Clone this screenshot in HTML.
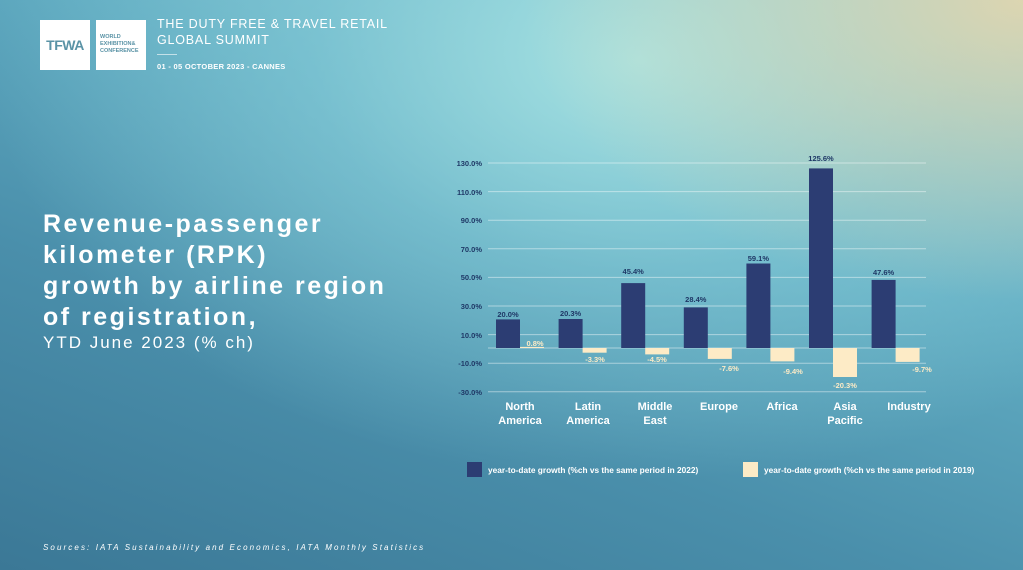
<!DOCTYPE html>
<html><head><meta charset="utf-8"><style>
html,body{margin:0;padding:0}
body{width:1023px;height:570px;overflow:hidden;position:relative;font-family:"Liberation Sans",sans-serif;
background:radial-gradient(ellipse 500px 300px at 1023px 0px,rgba(235,215,170,0.85),rgba(235,215,170,0) 100%),
radial-gradient(ellipse 650px 420px at 640px 60px,#a6e2e2 0%,rgba(140,210,220,0.55) 50%,rgba(120,190,205,0) 100%),
linear-gradient(200deg,#86c8d4 0%,#60abc1 35%,#4a8fab 65%,#3b7896 100%);}
.box{position:absolute;background:#fff;}
</style></head><body>
<div class="box" style="left:40px;top:20px;width:50px;height:50px;"><div style="font-weight:bold;color:#5a93a6;font-size:14px;text-align:center;line-height:50px;letter-spacing:-0.5px">TFWA</div></div>
<div class="box" style="left:96px;top:20px;width:50px;height:50px;"><div style="color:#5a93a6;font-size:5.5px;font-weight:bold;padding:14px 0 0 4px;line-height:7px">WORLD<br>EXHIBITION&amp;<br>CONFERENCE</div></div>
<div style="position:absolute;left:157px;top:16px;color:#fff;font-size:12.5px;letter-spacing:0.8px;line-height:16px">THE DUTY FREE &amp; TRAVEL RETAIL<br>GLOBAL SUMMIT</div>
<div style="position:absolute;left:157px;top:54px;width:20px;height:1px;background:rgba(255,255,255,0.6)"></div>
<div style="position:absolute;left:157px;top:62px;color:#fff;font-size:7.5px;font-weight:bold;letter-spacing:0.3px">01 - 05 OCTOBER 2023 - CANNES</div>
<div style="position:absolute;left:43px;top:209px;color:#fff;font-size:25px;font-weight:bold;letter-spacing:2.5px;line-height:31px">Revenue-passenger<br>kilometer (RPK)<br>growth by airline region<br>of registration,</div>
<div style="position:absolute;left:43px;top:333px;color:#fff;font-size:17px;letter-spacing:2px">YTD June 2023 (% ch)</div>
<div style="position:absolute;left:43px;top:543px;color:#fff;font-size:8px;font-style:italic;letter-spacing:2.1px">Sources: IATA Sustainability and Economics, IATA Monthly Statistics</div>
<svg width="1023" height="570" style="position:absolute;left:0;top:0" font-family="Liberation Sans, sans-serif">
<g stroke="rgba(255,255,255,0.45)" stroke-width="1">
<line x1="488" x2="926" y1="163" y2="163"/><line x1="488" x2="926" y1="191.6" y2="191.6"/>
<line x1="488" x2="926" y1="220.2" y2="220.2"/><line x1="488" x2="926" y1="248.8" y2="248.8"/>
<line x1="488" x2="926" y1="277.4" y2="277.4"/><line x1="488" x2="926" y1="306" y2="306"/>
<line x1="488" x2="926" y1="334.6" y2="334.6"/><line x1="488" x2="926" y1="348" y2="348"/>
<line x1="488" x2="926" y1="363.2" y2="363.2"/><line x1="488" x2="926" y1="391.8" y2="391.8"/>
</g>
<g fill="#1f3866" font-size="7.5" font-weight="bold" text-anchor="end">
<text x="482" y="166">130.0%</text><text x="482" y="195">110.0%</text><text x="482" y="223">90.0%</text>
<text x="482" y="252">70.0%</text><text x="482" y="280">50.0%</text><text x="482" y="309">30.0%</text>
<text x="482" y="338">10.0%</text><text x="482" y="366">-10.0%</text><text x="482" y="395">-30.0%</text>
</g>
<g fill="#2c3d73">
<rect x="496" y="319.4" width="24" height="28.6"/><rect x="558.6" y="319" width="24" height="29"/>
<rect x="621.2" y="283.1" width="24" height="64.9"/><rect x="683.8" y="307.4" width="24" height="40.6"/>
<rect x="746.4" y="263.5" width="24" height="84.5"/><rect x="809" y="168.4" width="24" height="179.6"/>
<rect x="871.6" y="279.9" width="24" height="68.1"/>
</g>
<g fill="#fdebc6">
<rect x="520" y="346.9" width="24" height="1.1"/><rect x="582.6" y="348" width="24" height="4.7"/>
<rect x="645.2" y="348" width="24" height="6.4"/><rect x="707.8" y="348" width="24" height="10.9"/>
<rect x="770.4" y="348" width="24" height="13.4"/><rect x="833" y="348" width="24" height="29"/>
<rect x="895.6" y="348" width="24" height="13.9"/>
</g>
<g fill="#1f3866" font-size="7.5" font-weight="bold" text-anchor="middle">
<text x="508" y="317">20.0%</text><text x="570.6" y="316">20.3%</text><text x="633.2" y="274">45.4%</text>
<text x="695.8" y="302">28.4%</text><text x="758.4" y="261">59.1%</text><text x="821" y="161">125.6%</text>
<text x="883.6" y="275">47.6%</text>
</g>
<g fill="#fdebc6" font-size="7.5" font-weight="bold" text-anchor="middle">
<text x="535" y="346">0.8%</text><text x="595" y="362">-3.3%</text><text x="657" y="362">-4.5%</text>
<text x="729" y="371">-7.6%</text><text x="793" y="374">-9.4%</text><text x="845" y="388">-20.3%</text>
<text x="922" y="372">-9.7%</text>
</g>
<g fill="#fff" font-size="11" font-weight="bold" text-anchor="middle">
<text x="520" y="410">North</text><text x="520" y="424">America</text>
<text x="588" y="410">Latin</text><text x="588" y="424">America</text>
<text x="655" y="410">Middle</text><text x="655" y="424">East</text>
<text x="719" y="410">Europe</text>
<text x="782" y="410">Africa</text>
<text x="845" y="410">Asia</text><text x="845" y="424">Pacific</text>
<text x="909" y="410">Industry</text>
</g>
<rect x="467" y="462" width="15" height="15" fill="#2c3d73"/>
<text x="488" y="473" fill="#fff" font-size="8.3" font-weight="bold">year-to-date growth (%ch vs the same period in 2022)</text>
<rect x="743" y="462" width="15" height="15" fill="#fdebc6"/>
<text x="764" y="473" fill="#fff" font-size="8.3" font-weight="bold">year-to-date growth (%ch vs the same period in 2019)</text>
</svg>
</body></html>
